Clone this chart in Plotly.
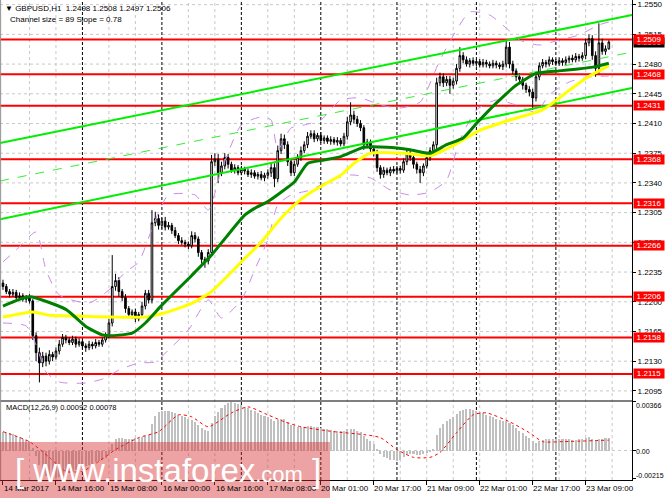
import plotly.graph_objects as go

# ---------------- data ----------------
closes = [
    1.2218, 1.2212, 1.2209, 1.2211, 1.2205, 1.2207, 1.2203, 1.2205, 1.2201, 1.2160,
    1.2140, 1.2128, 1.2136, 1.2130, 1.2138, 1.2135, 1.2142, 1.2150, 1.2158, 1.2155,
    1.2152, 1.2156, 1.2150, 1.2153, 1.2148, 1.2146, 1.2150, 1.2148, 1.2152, 1.2150,
    1.2155, 1.2160, 1.2175, 1.2218, 1.2225, 1.2212, 1.2205, 1.2192, 1.2185, 1.2188,
    1.2180, 1.2185, 1.2195, 1.2210, 1.2202, 1.2293, 1.2298, 1.2290, 1.2295, 1.2288,
    1.2290, 1.2284, 1.2278, 1.2272, 1.2270, 1.2268, 1.2266, 1.2278, 1.2274, 1.2258,
    1.2250, 1.2248, 1.2258, 1.2365, 1.2368, 1.2352, 1.2360, 1.2370, 1.2362, 1.2355,
    1.2358, 1.2352, 1.2356, 1.2354, 1.2350, 1.2352, 1.2348, 1.2350, 1.2346, 1.2349,
    1.2352, 1.2358, 1.2345, 1.2378, 1.2392, 1.2385, 1.2365, 1.2352, 1.2362, 1.2370,
    1.2378, 1.2385, 1.2395, 1.2398, 1.2392, 1.2396, 1.2390, 1.2393, 1.2389, 1.2391,
    1.2388, 1.2390, 1.2386, 1.2395, 1.2412, 1.2420, 1.2415, 1.2410, 1.2405, 1.2385,
    1.2388, 1.2380, 1.2376, 1.2358, 1.2350, 1.2355, 1.2352, 1.2356, 1.2354, 1.2357,
    1.2355, 1.2365, 1.2375, 1.2370, 1.2362, 1.2356, 1.2352, 1.2360, 1.2370, 1.2378,
    1.2385, 1.2458, 1.2465, 1.2458, 1.2462, 1.2455, 1.2460, 1.2475, 1.2490, 1.2485,
    1.2480, 1.2484, 1.2481, 1.2483, 1.2479, 1.2482, 1.2480, 1.2478, 1.2481, 1.2479,
    1.2477, 1.2480, 1.2500, 1.2480, 1.2472, 1.2465, 1.2462, 1.2455, 1.2450, 1.2447,
    1.2440, 1.2465, 1.2478, 1.2482, 1.2480, 1.2485, 1.2483, 1.2481, 1.2484, 1.2482,
    1.2485, 1.2487, 1.2485, 1.2489, 1.2487, 1.2490, 1.2505, 1.2510, 1.2490, 1.2475,
    1.2505, 1.2495, 1.2498, 1.2506,
]
first_open = 1.2222
upper_wick_pips = [
    4, 3, 3, 4, 3, 4, 3, 3, 4, 2,
    4, 6, 5, 4, 5, 3, 4, 5, 4, 3,
    3, 4, 3, 4, 3, 3, 4, 3, 4, 3,
    3, 4, 5, 37, 8, 4, 3, 4, 3, 3,
    4, 3, 5, 4, 4, 15, 8, 5, 4, 5,
    4, 3, 4, 3, 4, 3, 3, 5, 4, 3,
    3, 3, 4, 8, 7, 6, 5, 5, 4, 3,
    4, 3, 4, 3, 3, 4, 3, 3, 4, 3,
    4, 5, 5, 6, 6, 5, 4, 3, 4, 4,
    5, 4, 5, 4, 4, 3, 4, 3, 3, 4,
    3, 4, 3, 4, 6, 15, 5, 4, 4, 3,
    4, 3, 4, 3, 3, 4, 3, 3, 4, 3,
    3, 4, 5, 4, 3, 3, 4, 3, 4, 4,
    4, 6, 5, 4, 4, 4, 4, 5, 10, 4,
    4, 3, 4, 3, 3, 4, 3, 3, 4, 3,
    3, 4, 8, 6, 4, 3, 4, 3, 3, 4,
    4, 5, 4, 4, 3, 4, 3, 3, 4, 3,
    4, 3, 4, 4, 3, 4, 5, 5, 4, 5,
    23, 5, 4, 2,
]
lower_wick_pips = [
    4, 3, 4, 3, 4, 3, 3, 4, 3, 5,
    10, 23, 5, 6, 4, 5, 3, 4, 3, 4,
    3, 3, 4, 3, 4, 5, 3, 4, 3, 3,
    3, 3, 3, 4, 5, 6, 4, 5, 4, 5,
    4, 3, 4, 4, 4, 4, 4, 5, 4, 4,
    3, 4, 3, 4, 3, 4, 4, 3, 4, 5,
    5, 8, 4, 3, 5, 12, 4, 4, 5, 3,
    4, 3, 3, 4, 3, 4, 3, 4, 3, 4,
    4, 5, 10, 4, 4, 5, 5, 4, 4, 3,
    4, 3, 4, 3, 4, 3, 3, 4, 3, 4,
    3, 4, 3, 3, 4, 4, 5, 4, 4, 6,
    4, 4, 5, 5, 5, 4, 3, 4, 3, 3,
    4, 3, 4, 4, 5, 5, 12, 4, 3, 4,
    4, 5, 4, 5, 4, 10, 4, 4, 4, 4,
    3, 4, 3, 4, 3, 3, 4, 3, 3, 4,
    3, 4, 4, 5, 4, 5, 4, 5, 4, 5,
    14, 4, 4, 3, 4, 3, 4, 3, 3, 4,
    3, 4, 3, 3, 4, 3, 4, 4, 5, 10,
    6, 4, 4, 1,
]

# moving averages (read at sample bars)
ma_fast_idx = [0, 8, 19, 25, 30, 33, 39, 43, 48, 57, 63, 68, 73, 76, 80, 84, 88, 92, 97,
               102, 109, 116, 123, 129, 134, 139, 143, 149, 155, 161, 168, 173, 179, 183]
ma_fast_val = [1.2195, 1.2206, 1.2191, 1.2171, 1.2161, 1.2160, 1.2163, 1.2175, 1.2196, 1.2231,
               1.2255, 1.2279, 1.2302, 1.2310, 1.2318, 1.2329, 1.2341, 1.2363, 1.2367,
               1.2371, 1.2382, 1.2382, 1.2379, 1.2375, 1.2385, 1.2393, 1.2410, 1.2434,
               1.2455, 1.2469, 1.2472, 1.2474, 1.2477, 1.2481]
ma_slow_idx = [0, 9, 14, 24, 32, 43, 49, 57, 63, 68, 73, 78, 83, 88, 93, 97, 102, 106,
               111, 121, 129, 136, 144, 153, 163, 171, 176, 180, 183]
ma_slow_val = [1.2182, 1.2188, 1.2184, 1.2183, 1.2182, 1.2182, 1.2187, 1.2198, 1.2212,
               1.2231, 1.2251, 1.2270, 1.2294, 1.2314, 1.2329, 1.2338, 1.2349, 1.2363,
               1.2375, 1.2375, 1.2372, 1.2384, 1.2402, 1.2414, 1.2426, 1.2449, 1.2463,
               1.2472, 1.2478]

# envelope bands
band_up_idx = [0, 4, 10, 13, 17, 26, 32, 37, 41, 46, 50, 58, 62, 66, 72, 78, 81, 83, 87,
               91, 96, 102, 108, 114, 120, 126, 132, 137, 141, 147, 152, 156, 162, 168,
               174, 180, 183]
band_up_val = [1.22469, 1.22610, 1.22822, 1.22374, 1.22080, 1.21986, 1.22139, 1.22351,
               1.22469, 1.22963, 1.23258, 1.23258, 1.23081, 1.23552, 1.24083, 1.24177,
               1.24141, 1.23788, 1.24047, 1.24083, 1.24141, 1.24377, 1.24401, 1.24318,
               1.24283, 1.24353, 1.24848, 1.25202, 1.25414, 1.25378, 1.25225, 1.25084,
               1.25025, 1.25084, 1.25143, 1.25261, 1.25296]
band_lo_idx = [0, 7, 10, 13, 17, 25, 31, 35, 41, 46, 50, 56, 62, 66, 72, 76, 80, 83, 87,
               93, 99, 105, 111, 117, 123, 129, 134, 138, 143, 149, 155, 161, 165, 171,
               177, 183]
band_lo_val = [1.21750, 1.21715, 1.21491, 1.21173, 1.21055, 1.21043, 1.21102, 1.21196,
               1.21279, 1.21291, 1.21432, 1.21668, 1.22021, 1.21809, 1.22021, 1.22374,
               1.22728, 1.23140, 1.23258, 1.23317, 1.23435, 1.23494, 1.23458, 1.23317,
               1.23258, 1.23293, 1.23435, 1.23906, 1.24259, 1.24377, 1.24318, 1.24236,
               1.24436, 1.24589, 1.24648, 1.24660]

# regression channel
channel_x = [-0.9, 190.0]
channel_upper = [1.23870, 1.25378]
channel_mid = [1.23423, 1.24942]
channel_lower = [1.22972, 1.24518]

# horizontal levels
levels = [1.2509, 1.2468, 1.2431, 1.2368, 1.2316, 1.2266, 1.2206, 1.2158, 1.2115]
bid_price = 1.2506

# MACD
macd_hist_e5 = [
    140, 138, 130, 122, 112, 100, 90, 80, 70, 20,
    -40, -110, -160, -190, -205, -215, -210, -200, -190, -180,
    -170, -160, -150, -140, -130, -120, -110, -100, -90, -80,
    -70, -55, -30, 50, 90, 95, 95, 90, 88, 90,
    92, 95, 100, 110, 120, 200, 260, 290, 300, 300,
    295, 290, 280, 270, 260, 250, 240, 230, 215, 190,
    170, 155, 150, 210, 260, 290, 320, 340, 355, 366,
    360, 350, 340, 330, 318, 305, 295, 285, 270, 260,
    250, 240, 225, 230, 240, 235, 215, 195, 185, 180,
    178, 180, 185, 185, 180, 175, 170, 165, 160, 155,
    150, 148, 145, 150, 160, 165, 160, 150, 140, 110,
    90, 70, 50, 10, -30, -50, -60, -70, -75, -80,
    -70, -50, -30, -25, -30, -35, -35, -30, -20, -5,
    10, 120, 170, 200, 225, 240, 255, 275, 295, 305,
    310, 310, 305, 300, 290, 280, 270, 260, 250, 240,
    230, 225, 220, 205, 190, 170, 150, 130, 110, 95,
    70, 60, 70, 80, 85, 90, 90, 88, 86, 85,
    84, 84, 83, 83, 84, 85, 95, 100, 90, 80,
    88, 90, 92, 92,
]
signal_idx = [0, 8, 14, 19, 24, 29, 34, 41, 47, 53, 57, 62, 69, 74, 80, 85, 90, 100, 109,
              114, 119, 124, 129, 132, 137, 142, 146, 153, 159, 163, 169, 183]
signal_val = [0.00142, 0.00067, -0.00052, -0.00157, -0.00157, -0.00082, 0.00007, 0.00097,
              0.00142, 0.00269, 0.00254, 0.00179, 0.00284, 0.00329, 0.00269, 0.00217,
              0.00179, 0.00142, 0.00120, 0.00097, 0.00007, -0.00052, -0.00052, -0.00015,
              0.00134, 0.00269, 0.00284, 0.00217, 0.00134, 0.00067, 0.00067, 0.00078]
macd_max, macd_min = 0.00366, -0.00215

# time axis
time_label_idx = [0, 16, 32, 48, 64, 80, 96, 112, 128, 144, 160, 176]
time_labels = ["14 Mar 2017", "14 Mar 16:00", "15 Mar 08:00", "16 Mar 00:00",
               "16 Mar 16:00", "17 Mar 08:00", "20 Mar 01:00", "20 Mar 17:00",
               "21 Mar 09:00", "22 Mar 01:00", "22 Mar 17:00", "23 Mar 09:00"]
day_sep_idx = [24, 48, 72, 96, 119, 143, 167]
price_ticks = [1.2095, 1.2130, 1.2165, 1.2200, 1.2235, 1.2270, 1.2305, 1.2340, 1.2375,
               1.2410, 1.2445, 1.2480, 1.2515, 1.2550]

# ---------------- derived ----------------
n = len(closes)
xs = list(range(n))
opens = [first_open] + closes[:-1]
highs = [max(o, c) + u / 10000 for o, c, u in zip(opens, closes, upper_wick_pips)]
lows = [min(o, c) - l / 10000 for o, c, l in zip(opens, closes, lower_wick_pips)]
hist = [v / 100000 for v in macd_hist_e5]

W, H = 665, 499
ML, MR, MT, MB = 0, 33, 0, 19
PW, PH = W - ML - MR, H - MT - MB          # 632 x 480
split = (PH - 401) / PH                    # panel boundary in paper coords

def py(pix):  # pixel y (from top) -> paper y
    return (PH - pix) / PH

def px(pix):
    return pix / PW

FONT = "Liberation Sans, Arial, sans-serif"
fig = go.Figure()

# bands
fig.add_trace(go.Scatter(x=band_up_idx, y=band_up_val, mode="lines",
                         line=dict(color="#c98be6", width=1, dash="dash", shape="spline", smoothing=0.6),
                         hoverinfo="skip"))
fig.add_trace(go.Scatter(x=band_lo_idx, y=band_lo_val, mode="lines",
                         line=dict(color="#c98be6", width=1, dash="dash", shape="spline", smoothing=0.6),
                         hoverinfo="skip"))
# channel
fig.add_trace(go.Scatter(x=channel_x, y=channel_upper, mode="lines",
                         line=dict(color="#00ee00", width=2), hoverinfo="skip"))
fig.add_trace(go.Scatter(x=channel_x, y=channel_lower, mode="lines",
                         line=dict(color="#00ee00", width=2), hoverinfo="skip"))
fig.add_trace(go.Scatter(x=channel_x, y=channel_mid, mode="lines",
                         line=dict(color="#33ee33", width=1, dash="dash"), hoverinfo="skip"))
# candles
fig.add_trace(go.Candlestick(
    x=xs, open=opens, high=highs, low=lows, close=closes,
    increasing=dict(line=dict(color="black", width=1), fillcolor="white"),
    decreasing=dict(line=dict(color="black", width=1), fillcolor="black"),
    whiskerwidth=0, hoverinfo="skip"))
# moving averages
fig.add_trace(go.Scatter(x=ma_slow_idx, y=ma_slow_val, mode="lines",
                         line=dict(color="#ffff00", width=3, shape="spline", smoothing=0.5),
                         hoverinfo="skip"))
fig.add_trace(go.Scatter(x=ma_fast_idx, y=ma_fast_val, mode="lines",
                         line=dict(color="#008000", width=3, shape="spline", smoothing=0.5),
                         hoverinfo="skip"))

# MACD panel
fig.add_trace(go.Bar(x=xs, y=hist, marker=dict(color="#c0c0c0", line=dict(width=0)),
                     width=0.62, xaxis="x2", yaxis="y2", hoverinfo="skip"))
fig.add_trace(go.Scatter(x=signal_idx, y=signal_val, mode="lines",
                         line=dict(color="#ff0000", width=1, dash="dot", shape="spline", smoothing=0.6),
                         xaxis="x2", yaxis="y2", hoverinfo="skip"))

shapes = []
# vertical grid every 8 bars
for i in range(8, 190, 8):
    if i in day_sep_idx:
        continue
    shapes.append(dict(type="line", xref="x", yref="paper", x0=i, x1=i, y0=0, y1=1,
                       line=dict(color="#c8c8c8", width=1, dash="3px,3px"), layer="below"))
# horizontal grid
for t in price_ticks:
    shapes.append(dict(type="line", xref="paper", yref="y", x0=0, x1=1, y0=t, y1=t,
                       line=dict(color="#c8c8c8", width=1, dash="3px,3px"), layer="below"))
shapes.append(dict(type="line", xref="paper", yref="y2", x0=0, x1=1, y0=0, y1=0,
                   line=dict(color="#c8c8c8", width=1, dash="3px,3px"), layer="below"))
# day separators
for i in day_sep_idx:
    shapes.append(dict(type="line", xref="x", yref="paper", x0=i, x1=i, y0=0, y1=1,
                       line=dict(color="black", width=1, dash="3px,2px"), layer="below"))
# level lines
for lv in levels:
    shapes.append(dict(type="line", xref="paper", yref="y", x0=0, x1=1, y0=lv, y1=lv,
                       line=dict(color="#ff0000", width=2), layer="below"))
# panel separator
shapes.append(dict(type="line", xref="paper", yref="paper", x0=0, x1=1, y0=split, y1=split,
                   line=dict(color="black", width=1)))
# left border
shapes.append(dict(type="line", xref="paper", yref="paper", x0=0.001, x1=0.001, y0=0, y1=1,
                   line=dict(color="#909090", width=1)))
# watermark band
shapes.append(dict(type="rect", xref="paper", yref="paper", x0=-0.01, x1=px(330),
                   y0=py(498), y1=py(442), fillcolor="rgba(214,52,52,0.45)",
                   line=dict(width=0), layer="above"))

ann = []
ann.append(dict(text="\u25bc GBPUSD,H1\u00a0\u00a01.2498 1.2508 1.2497 1.2506",
                xref="paper", yref="paper", x=px(3), y=py(8), xanchor="left", yanchor="middle",
                showarrow=False, font=dict(family=FONT, size=8, color="black")))
ann.append(dict(text="Channel size = 89 Slope = 0.78",
                xref="paper", yref="paper", x=px(8), y=py(19.5), xanchor="left", yanchor="middle",
                showarrow=False, font=dict(family=FONT, size=8, color="black")))
ann.append(dict(text="MACD(12,26,9) 0.00092 0.00078",
                xref="paper", yref="paper", x=px(4), y=py(407), xanchor="left", yanchor="middle",
                showarrow=False, font=dict(family=FONT, size=7.5, color="black")))
# MACD axis labels
for txt, ypix in [("0.00366", 405.7), ("0.00", 451.5), ("-0.00215", 475.5)]:
    ann.append(dict(text=txt, xref="paper", yref="paper", x=px(634), y=py(ypix),
                    xanchor="left", yanchor="middle", showarrow=False,
                    font=dict(family=FONT, size=7, color="black")))
# time labels
for i, t in zip(time_label_idx, time_labels):
    ann.append(dict(text=t, xref="x", yref="paper", x=i - 0.4, y=py(488.5),
                    xanchor="left", yanchor="middle", showarrow=False,
                    font=dict(family=FONT, size=8, color="black")))
# bid marker + level labels
ann.append(dict(text=f"{bid_price:.4f}", xref="paper", y=bid_price, yref="y", x=px(633),
                xanchor="left", yanchor="middle", showarrow=False, bgcolor="black",
                width=30, height=9, borderpad=0,
                font=dict(family=FONT, size=8, color="white")))
for lv in levels:
    ann.append(dict(text=f"{lv:.4f}", xref="paper", yref="y", x=px(633), y=lv,
                    xanchor="left", yanchor="middle", showarrow=False, bgcolor="#ff0000",
                    width=30, height=9, borderpad=0,
                    font=dict(family=FONT, size=8, color="white")))
# watermark text
ann.append(dict(text="[\u00a0www.instaforex<span style='font-size:22px'>.com</span>\u00a0]",
                xref="paper", yref="paper", x=px(168), y=py(470), xanchor="center",
                yanchor="middle", showarrow=False,
                font=dict(family="Liberation Sans, Arial, sans-serif", size=33, color="white")))

fig.update_layout(
    width=W, height=H, margin=dict(l=ML, r=MR, t=MT, b=MB),
    paper_bgcolor="white", plot_bgcolor="white", showlegend=False,
    bargap=0, shapes=shapes, annotations=ann,
    xaxis=dict(range=[-0.9, 190.0], showgrid=False, zeroline=False, showticklabels=False,
               rangeslider=dict(visible=False), anchor="y", fixedrange=True),
    yaxis=dict(domain=[split, 1], range=[1.20831, 1.25555], side="right",
               tickvals=price_ticks, ticktext=[f"{t:.4f}" for t in price_ticks],
               ticks="outside", ticklen=3, tickcolor="black", showgrid=False,
               zeroline=False, showline=True, linecolor="black", linewidth=1,
               tickfont=dict(family=FONT, size=8, color="black"), anchor="x"),
    xaxis2=dict(range=[-0.9, 190.0], showgrid=False, zeroline=False, anchor="y2",
                tickvals=time_label_idx, ticktext=["" for _ in time_label_idx],
                ticks="outside", ticklen=4, tickcolor="black",
                showline=True, linecolor="black", linewidth=1),
    yaxis2=dict(domain=[0, split], range=[-0.002226, 0.003735], side="right",
                showticklabels=False, tickvals=[macd_min, 0, macd_max], ticks="outside",
                ticklen=3, tickcolor="black", showgrid=False, zeroline=False,
                showline=True, linecolor="black", linewidth=1, anchor="x2"),
)

fig.write_html("out.html", config={"displayModeBar": False},
               post_script="document.body.style.margin='0px';document.body.style.padding='0px';")
